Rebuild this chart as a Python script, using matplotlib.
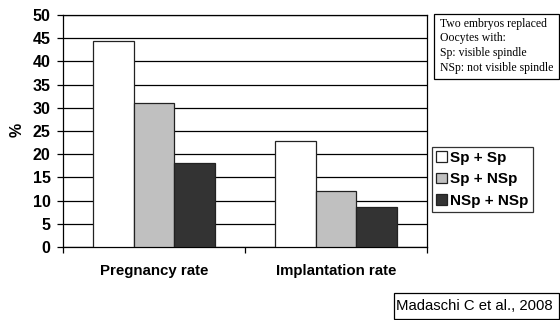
import matplotlib
matplotlib.use("Agg")
import matplotlib.pyplot as plt
import numpy as np
from matplotlib.patches import Rectangle

categories = ["Pregnancy rate", "Implantation rate"]
series_names = ["Sp + Sp", "Sp + NSp", "NSp + NSp"]
sp_sp = [44.3, 22.9]
sp_nsp = [31.1, 12.0]
nsp_nsp = [18.2, 8.7]
series_values = [sp_sp, sp_nsp, nsp_nsp]
colors = ["#FFFFFF", "#C0C0C0", "#333333"]
yticks = [0, 5, 10, 15, 20, 25, 30, 35, 40, 45, 50]

sans = "Liberation Sans"
serif = "Liberation Serif"

fig = plt.figure(figsize=(5.6, 3.2), dpi=100)
W, H = 560, 320
ax = fig.add_axes([63 / W, 1 - 247 / H, (427 - 63) / W, (247 - 15) / H])

x = np.arange(len(categories))
width = 1 / 4.5
for i, (vals, c, name) in enumerate(zip(series_values, colors, series_names)):
    ax.bar(x + (i - 1) * width, vals, width, color=c, edgecolor="#222222",
           linewidth=0.9, label=name, zorder=3)

ax.set_xlim(-0.5, 1.5)
ax.set_ylim(0, 50)
ax.set_yticks(yticks)
ax.set_yticklabels([str(t) for t in yticks], fontfamily=sans,
                   fontweight="bold", fontsize=11.5)
ax.yaxis.grid(True, color="black", linewidth=0.9, zorder=0)
ax.set_axisbelow(True)

# category labels centred under each group, boundary ticks between groups
ax.set_xticks([-0.5, 0.5, 1.5])
ax.set_xticklabels([])
ax.tick_params(axis="x", direction="out", length=4, width=0.9)
ax.tick_params(axis="y", direction="out", length=4, width=0.9, pad=5)
for xi, cat in zip(x, categories):
    ax.text(xi, -5.2, cat, ha="center", va="center", fontfamily=sans,
            fontweight="bold", fontsize=10.8, transform=ax.transData)

for s in ax.spines.values():
    s.set_color("black")
    s.set_linewidth(0.9)

fig.text(17 / W, 1 - 130 / H, "%", rotation=90, ha="center", va="center",
         fontfamily=sans, fontweight="bold", fontsize=11.5)

leg = fig.legend(loc="upper left", bbox_to_anchor=(432 / W, 1 - 147 / H),
                 prop={"family": sans, "weight": "bold", "size": 11},
                 frameon=True, fancybox=False, handlelength=0.7,
                 handleheight=0.7, handletextpad=0.25, borderpad=0.25,
                 labelspacing=0.5, borderaxespad=0)
leg.get_frame().set_edgecolor("black")
leg.get_frame().set_linewidth(0.9)

# note box
fig.patches.append(Rectangle((434 / W, 1 - 79 / H), (559 - 434) / W, (79 - 14) / H,
                             transform=fig.transFigure, facecolor="white",
                             edgecolor="black", linewidth=0.9))
note_lines = ["Two embryos replaced", "Oocytes with:", "Sp: visible spindle",
              "NSp: not visible spindle"]
for k, line in enumerate(note_lines):
    fig.text(440 / W, 1 - (24 + k * 14.5) / H, line, ha="left", va="center",
             fontfamily=serif, fontsize=8.5)

# citation box
fig.patches.append(Rectangle((394 / W, 1 - 319 / H), (559 - 394) / W, (319 - 293) / H,
                             transform=fig.transFigure, facecolor="white",
                             edgecolor="black", linewidth=0.9))
fig.text(396 / W, 1 - 306 / H, "Madaschi C et al., 2008", ha="left", va="center",
         fontfamily=sans, fontsize=10.7)

fig.savefig("out.png", dpi=100)
